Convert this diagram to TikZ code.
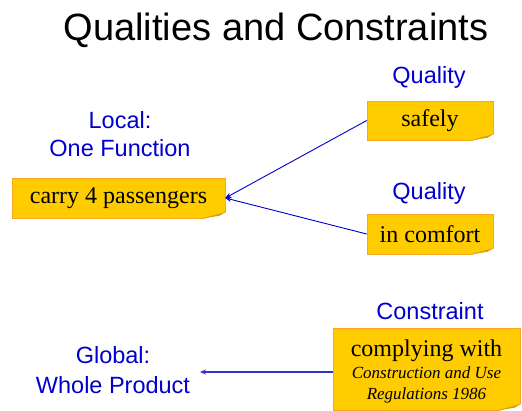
\documentclass[tikz,border=0pt]{standalone}
\usepackage{fontspec}
\setmainfont{Liberation Serif}
\newfontfamily\sansf{Liberation Sans}
\usetikzlibrary{calc,arrows.meta}
\definecolor{gold}{HTML}{FFCC00}
\definecolor{goldedge}{HTML}{F5A623}
\definecolor{folddark}{HTML}{D9A000}
\definecolor{lblue}{HTML}{0000CC}
\definecolor{cblue}{HTML}{3333CC}
\tikzset{
  note/.style={fill=gold, draw=goldedge, line width=0.6pt, inner sep=0pt, align=center, font=\fontsize{24}{26}\selectfont},
  lbl/.style={text=lblue, font=\sansf\fontsize{23.5}{28}\selectfont, align=center, inner sep=2pt},
  arr/.style={draw=lblue, line width=0.9pt, -{Stealth[length=6pt,width=5pt]}},
}
\newcommand\mkfold[1]{%
  \fill[white] ($(#1.south east)+(0.8,-6)$) -- ($(#1.south east)+(0.8,0.8)$) -- ($(#1.south east)+(-22,0.8)$) -- cycle;
  \draw[goldedge, line width=0.6pt] ($(#1.south east)+(0,-6)$) -- ($(#1.south east)+(-22,0)$);
  \fill[folddark] ($(#1.south east)+(0,-6)$) -- ($(#1.south east)+(-22,0)$) -- ($(#1.south east)+(-6,-2.5)$) -- cycle;
}
\newcommand\smit{\itshape\fontsize{17}{21}\selectfont}
\begin{document}
\begin{tikzpicture}[x=1pt,y=-1pt]
\useasboundingbox (0,0) rectangle (522,410);
\node[font=\sansf\fontsize{38}{40}\selectfont] (title) at (276,30) {Qualities and Constraints};

\node[lbl] (local) at (120,134) {Local:\\One Function};
\node[note, minimum width=213pt, minimum height=40pt] (carry) at (118.5,198) {carry 4 passengers};
\mkfold{carry}

\node[lbl] (q1) at (429,77) {Quality};
\node[note, minimum width=126pt, minimum height=39pt] (safe) at (430,120.5) {\raisebox{-1.5pt}{safely}};
\mkfold{safe}

\node[lbl] (q2) at (429,193) {Quality};
\node[note, minimum width=126pt, minimum height=40pt] (comf) at (430,234) {in comfort};
\mkfold{comf}

\node[lbl] (cons) at (430,311) {Constraint};
\node[note, minimum width=187pt, minimum height=82pt] (comply) at (426.5,369)
  {\rule{0pt}{22pt}complying with\\[-4pt]\smit Construction and Use\\[-5pt]\smit Regulations 1986};
\mkfold{comply}

\node[lbl, font=\sansf\fontsize{23.5}{30}\selectfont] (global) at (113,370) {Global:\\Whole Product};

\draw[arr] (safe.west) -- (carry.east);
\draw[arr] (comf.west) -- (carry.east);
\coordinate (gend) at (200,372);
\draw[draw=cblue, line width=1.1pt, -{Stealth[length=6pt,width=5pt]}] (comply.west |- gend) -- (gend);
\end{tikzpicture}
\end{document}
